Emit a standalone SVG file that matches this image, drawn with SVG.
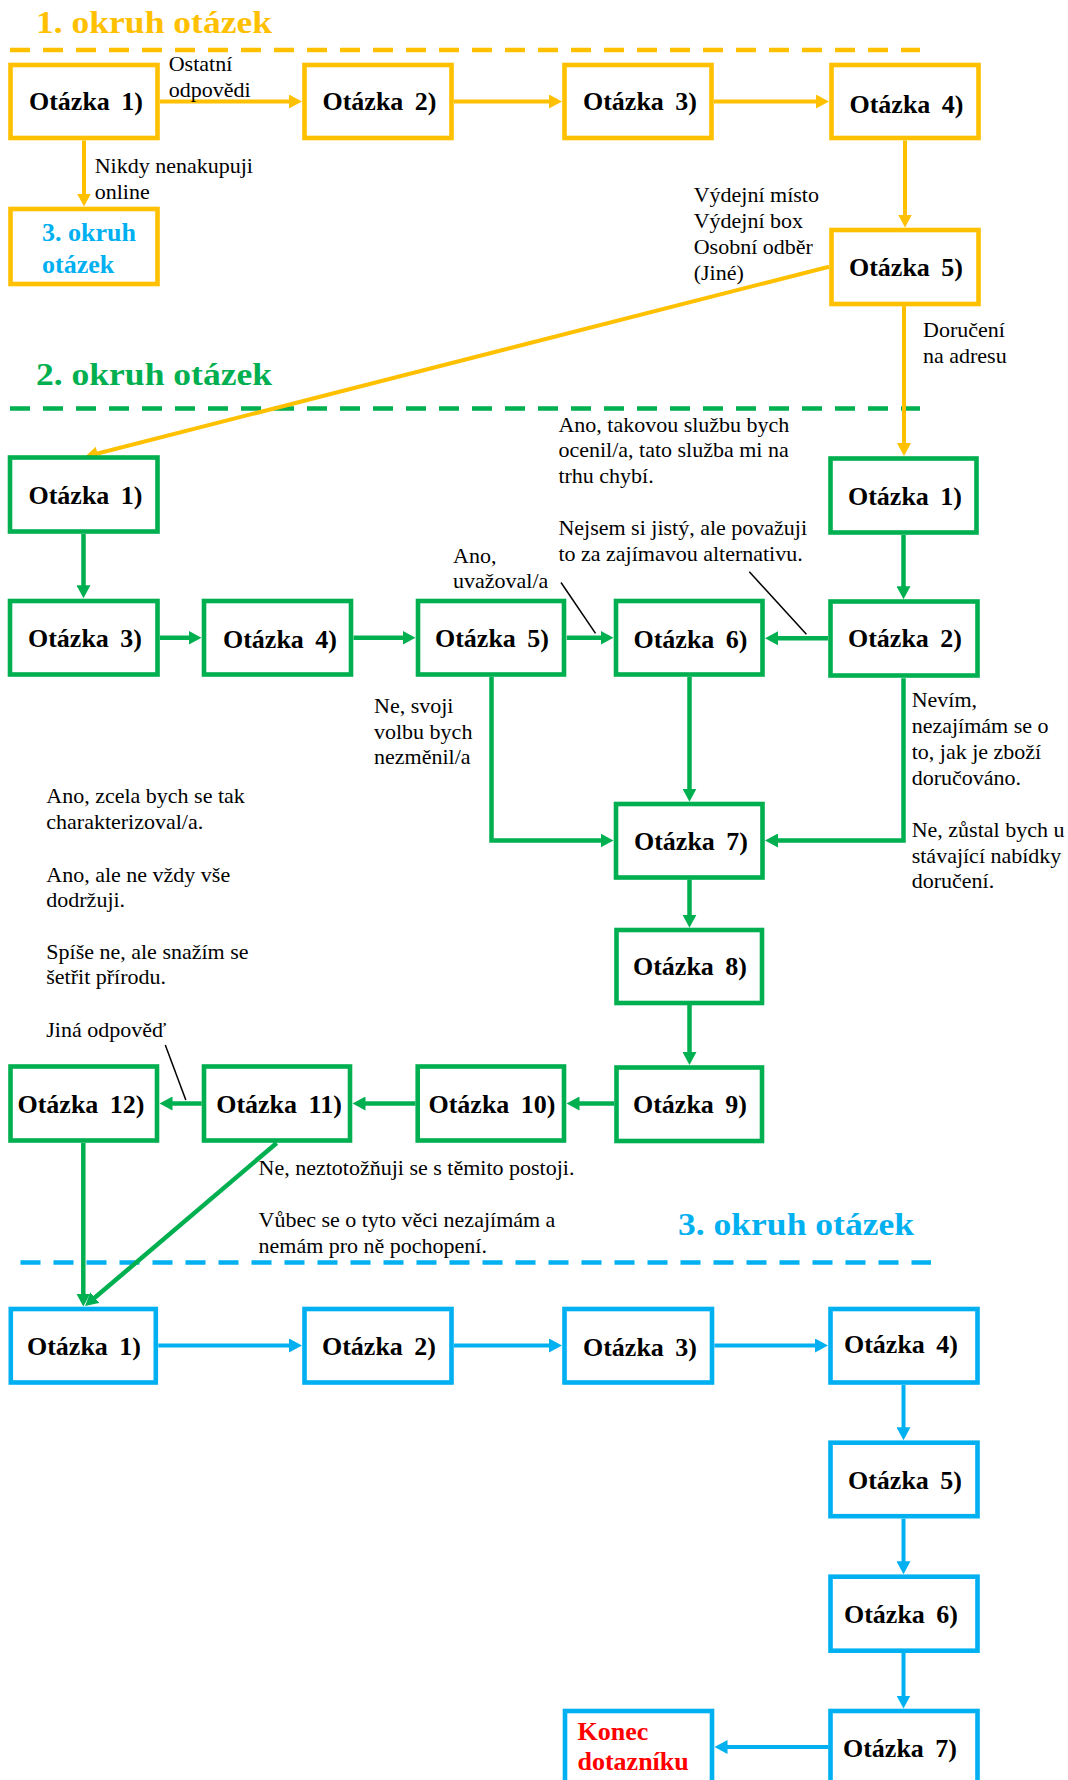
<svg xmlns="http://www.w3.org/2000/svg" width="1068" height="1780" viewBox="0 0 1068 1780">
  <style>
    .bg { fill: #ffffff; }
    .box { fill: #ffffff; stroke-width: 4.6; }
    .y { stroke: #FFC000; }
    .g { stroke: #00B050; }
    .b { stroke: #00B0F0; }
    .q { font-family: "Liberation Serif", "Times New Roman", serif; font-weight: bold; font-size: 26px; fill: #000000; text-anchor: middle; word-spacing: 5px; }
    .head { font-family: "Liberation Serif", "Times New Roman", serif; font-weight: bold; font-size: 32px; }
    .lbl { font-family: "Liberation Serif", "Times New Roman", serif; font-size: 22px; fill: #000000; }
    .sub { font-family: "Liberation Serif", "Times New Roman", serif; font-weight: bold; font-size: 26px; }
    .dash { fill: none; stroke-width: 4.6; stroke-dasharray: 20 13; }
    .conn { fill: none; stroke-linejoin: miter; }
    .cy { stroke: #FFC000; stroke-width: 4; marker-end: url(#arrow-y); }
    .cg { stroke: #00B050; stroke-width: 4.5; marker-end: url(#arrow-g); }
    .cb { stroke: #00B0F0; stroke-width: 4; marker-end: url(#arrow-b); }
    .callout { stroke: #000000; stroke-width: 1.5; fill: none; }
  </style>
  <defs>
    <marker id="arrow-y" markerUnits="userSpaceOnUse" markerWidth="14" markerHeight="14" refX="8" refY="7" orient="auto">
      <path d="M0,0 L13,7 L0,14 z" fill="#FFC000"/>
    </marker>
    <marker id="arrow-g" markerUnits="userSpaceOnUse" markerWidth="14" markerHeight="14" refX="8" refY="7" orient="auto">
      <path d="M0,0 L13,7 L0,14 z" fill="#00B050"/>
    </marker>
    <marker id="arrow-b" markerUnits="userSpaceOnUse" markerWidth="14" markerHeight="14" refX="8" refY="7" orient="auto">
      <path d="M0,0 L13,7 L0,14 z" fill="#00B0F0"/>
    </marker>
  </defs>

  <rect class="bg" x="0" y="0" width="1068" height="1780"/>

  <!-- section headings and separators -->
  <g id="section-1-header">
    <text class="head" x="36" y="33" fill="#FFC000" textLength="236" lengthAdjust="spacingAndGlyphs">1. okruh otázek</text>
    <line class="dash" x1="10" y1="50" x2="920" y2="50" stroke="#FFC000"/>
  </g>
  <g id="section-2-header">
    <text class="head" x="36" y="385" fill="#00B050" textLength="236" lengthAdjust="spacingAndGlyphs">2. okruh otázek</text>
    <line class="dash" x1="10" y1="408.5" x2="920" y2="408.5" stroke="#00B050"/>
  </g>
  <g id="section-3-header">
    <text class="head" x="678" y="1235" fill="#00B0F0" textLength="236" lengthAdjust="spacingAndGlyphs">3. okruh otázek</text>
    <line class="dash" x1="20.5" y1="1262.5" x2="931" y2="1262.5" stroke="#00B0F0" stroke-dasharray="19 15"/>
  </g>

  <!-- connectors -->
  <g id="connectors" class="conn">
    <!-- section 1 -->
    <path class="cy" d="M160,101.5 H297"/>
    <path class="cy" d="M84,140.5 V201.5"/>
    <path class="cy" d="M454,101.5 H557"/>
    <path class="cy" d="M714,101.5 H824"/>
    <path class="cy" d="M905,140.5 V222.5"/>
    <path class="cy" d="M829,266.7 L89.8,455.5"/>
    <path class="cy" d="M904,306 V451"/>
    <!-- section 2 -->
    <path class="cg" d="M83.5,534 V593.3"/>
    <path class="cg" d="M160,637.8 H196.5"/>
    <path class="cg" d="M353.5,637.8 H410.5"/>
    <path class="cg" d="M566.7,637.8 H608.5"/>
    <path class="cg" d="M903.5,535 V594.3"/>
    <path class="cg" d="M828,638.3 H770"/>
    <path class="cg" d="M689.5,676.7 V796.7"/>
    <path class="cg" d="M491.5,676.7 V840.5 H608.5"/>
    <path class="cg" d="M903.5,678.3 V840.5 H770"/>
    <path class="cg" d="M689.5,879.5 V922.7"/>
    <path class="cg" d="M689.5,1005 V1060"/>
    <path class="cg" d="M614,1103.5 H571.5"/>
    <path class="cg" d="M415.5,1103.5 H357.5"/>
    <path class="cg" d="M201.7,1103.5 H164.5"/>
    <path class="cg" d="M83.3,1143 V1301.5"/>
    <path class="cg" d="M276.7,1143 L88.8,1302.8"/>
    <!-- section 3 -->
    <path class="cb" d="M158.3,1345.5 H297"/>
    <path class="cb" d="M454,1345.5 H557"/>
    <path class="cb" d="M714.4,1345.5 H823"/>
    <path class="cb" d="M903.5,1385 V1435.2"/>
    <path class="cb" d="M903.5,1518.7 V1569.2"/>
    <path class="cb" d="M903.5,1653 V1703.5"/>
    <path class="cb" d="M828.5,1747 H719.5"/>
    <!-- answer callouts -->
    <line class="callout" x1="561" y1="582.5" x2="595.5" y2="633.3"/>
    <line class="callout" x1="749.3" y1="571.7" x2="806.4" y2="634.3"/>
    <line class="callout" x1="165.3" y1="1045" x2="185.8" y2="1100"/>
  </g>

  <!-- answer labels -->
  <g id="labels" class="lbl">
    <text x="168.7" y="70.7">Ostatní</text>
    <text x="168.7" y="96.7">odpovědi</text>
    <text x="94.7" y="173.3">Nikdy nenakupuji</text>
    <text x="94.7" y="199">online</text>
    <text x="693.7" y="201.7">Výdejní místo</text>
    <text x="693.7" y="228">Výdejní box</text>
    <text x="693.7" y="254">Osobní odběr</text>
    <text x="693.7" y="280">(Jiné)</text>
    <text x="923" y="337.3">Doručení</text>
    <text x="923" y="363.3">na adresu</text>
    <text x="558.4" y="431.7">Ano, takovou službu bych</text>
    <text x="558.4" y="457.3">ocenil/a, tato služba mi na</text>
    <text x="558.4" y="482.7">trhu chybí.</text>
    <text x="558.4" y="535">Nejsem si jistý, ale považuji</text>
    <text x="558.4" y="560.7">to za zajímavou alternativu.</text>
    <text x="453" y="562.7">Ano,</text>
    <text x="453" y="588.3">uvažoval/a</text>
    <text x="374" y="713.3">Ne, svoji</text>
    <text x="374" y="739">volbu bych</text>
    <text x="374" y="764">nezměnil/a</text>
    <text x="911.7" y="707.3">Nevím,</text>
    <text x="911.7" y="733.3">nezajímám se o</text>
    <text x="911.7" y="759.3">to, jak je zboží</text>
    <text x="911.7" y="785">doručováno.</text>
    <text x="911.7" y="836.7">Ne, zůstal bych u</text>
    <text x="911.7" y="862.7">stávající nabídky</text>
    <text x="911.7" y="888.3">doručení.</text>
    <text x="46.3" y="803.3">Ano, zcela bych se tak</text>
    <text x="46.3" y="829.3">charakterizoval/a.</text>
    <text x="46.3" y="881.7">Ano, ale ne vždy vše</text>
    <text x="46.3" y="906.7">dodržuji.</text>
    <text x="46.3" y="959">Spíše ne, ale snažím se</text>
    <text x="46.3" y="984.3">šetřit přírodu.</text>
    <text x="46.3" y="1036.7">Jiná odpověď</text>
    <text x="258.5" y="1175">Ne, neztotožňuji se s těmito postoji.</text>
    <text x="258.5" y="1226.7">Vůbec se o tyto věci nezajímám a</text>
    <text x="258.5" y="1252.5">nemám pro ně pochopení.</text>
  </g>

  <!-- section 1 nodes -->
  <g id="s1-q1"><rect class="box y" x="10.5" y="65" width="147" height="73"/><text class="q" x="86" y="110">Otázka 1)</text></g>
  <g id="s1-q2"><rect class="box y" x="304.5" y="65" width="147" height="73"/><text class="q" x="379.5" y="110">Otázka 2)</text></g>
  <g id="s1-q3"><rect class="box y" x="564.5" y="65" width="147" height="73"/><text class="q" x="640" y="110">Otázka 3)</text></g>
  <g id="s1-q4"><rect class="box y" x="831.5" y="65" width="147" height="73"/><text class="q" x="906.5" y="113">Otázka 4)</text></g>
  <g id="s1-q5"><rect class="box y" x="831.5" y="230" width="147" height="74"/><text class="q" x="906" y="276">Otázka 5)</text></g>
  <g id="s1-to-s3">
    <rect class="box y" x="10.5" y="209" width="147" height="75"/>
    <text class="sub" x="42" y="240.7" fill="#00B0F0">3. okruh</text>
    <text class="sub" x="42" y="272.7" fill="#00B0F0">otázek</text>
  </g>

  <!-- section 2 nodes -->
  <g id="s2-q1a"><rect class="box g" x="10" y="457.5" width="147.5" height="74"/><text class="q" x="85.5" y="503.5">Otázka 1)</text></g>
  <g id="s2-q1b"><rect class="box g" x="830.5" y="458.5" width="146" height="74"/><text class="q" x="905" y="505">Otázka 1)</text></g>
  <g id="s2-q3"><rect class="box g" x="10" y="601" width="147.5" height="73.5"/><text class="q" x="85" y="646.5">Otázka 3)</text></g>
  <g id="s2-q4"><rect class="box g" x="204" y="601" width="147" height="73.5"/><text class="q" x="280" y="648">Otázka 4)</text></g>
  <g id="s2-q5"><rect class="box g" x="418" y="601" width="146" height="73.5"/><text class="q" x="492" y="647">Otázka 5)</text></g>
  <g id="s2-q6"><rect class="box g" x="616" y="601" width="146.5" height="73.5"/><text class="q" x="690.5" y="648">Otázka 6)</text></g>
  <g id="s2-q2"><rect class="box g" x="830.5" y="601.5" width="147" height="74"/><text class="q" x="905" y="647">Otázka 2)</text></g>
  <g id="s2-q7"><rect class="box g" x="616" y="804" width="146.5" height="73.5"/><text class="q" x="691" y="850">Otázka 7)</text></g>
  <g id="s2-q8"><rect class="box g" x="616.5" y="930" width="145.5" height="73"/><text class="q" x="690" y="975">Otázka 8)</text></g>
  <g id="s2-q9"><rect class="box g" x="616.5" y="1067.5" width="145.5" height="73.5"/><text class="q" x="690" y="1113">Otázka 9)</text></g>
  <g id="s2-q10"><rect class="box g" x="417.7" y="1066.5" width="146.3" height="74"/><text class="q" x="492" y="1113">Otázka 10)</text></g>
  <g id="s2-q11"><rect class="box g" x="204" y="1066.5" width="146" height="74"/><text class="q" x="279" y="1113">Otázka 11)</text></g>
  <g id="s2-q12"><rect class="box g" x="10.5" y="1066.5" width="146.5" height="74"/><text class="q" x="81" y="1113">Otázka 12)</text></g>

  <!-- section 3 nodes -->
  <g id="s3-q1"><rect class="box b" x="10.8" y="1309" width="145" height="73.5"/><text class="q" x="84" y="1355">Otázka 1)</text></g>
  <g id="s3-q2"><rect class="box b" x="304.5" y="1309" width="147" height="73.5"/><text class="q" x="379" y="1355">Otázka 2)</text></g>
  <g id="s3-q3"><rect class="box b" x="564.5" y="1309" width="147.5" height="73.5"/><text class="q" x="640" y="1356">Otázka 3)</text></g>
  <g id="s3-q4"><rect class="box b" x="830.5" y="1309" width="147" height="73.5"/><text class="q" x="901" y="1353">Otázka 4)</text></g>
  <g id="s3-q5"><rect class="box b" x="830.5" y="1442.7" width="147" height="73.5"/><text class="q" x="905" y="1489">Otázka 5)</text></g>
  <g id="s3-q6"><rect class="box b" x="830.5" y="1576.7" width="147" height="74"/><text class="q" x="901" y="1623">Otázka 6)</text></g>
  <g id="s3-q7"><rect class="box b" x="830.5" y="1711" width="147" height="74"/><text class="q" x="900" y="1757">Otázka 7)</text></g>
  <g id="s3-end">
    <rect class="box b" x="565" y="1711" width="147" height="74"/>
    <text class="sub" x="577.5" y="1740" fill="#FF0000">Konec</text>
    <text class="sub" x="577.5" y="1770" fill="#FF0000">dotazníku</text>
  </g>
</svg>
